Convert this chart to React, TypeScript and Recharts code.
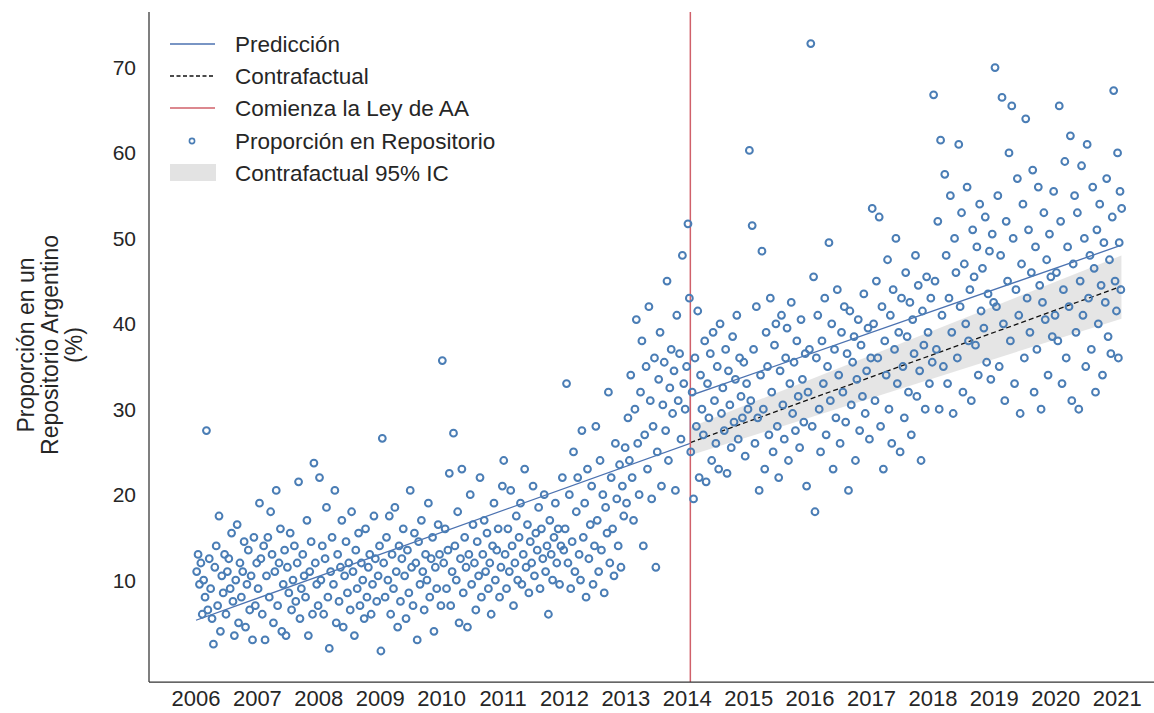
import React from 'react';
import {
  ComposedChart,
  Scatter,
  Line,
  Area,
  XAxis,
  YAxis,
  ReferenceLine,
} from 'recharts';

const YEARS = [2006, 2007, 2008, 2009, 2010, 2011, 2012, 2013, 2014, 2015, 2016, 2017, 2018, 2019, 2020, 2021];
const Y_TICKS = [10, 20, 30, 40, 50, 60, 70];

// weekly share per year (left to right inside each year)
const Y2006 = [11, 13, 9.5, 12, 6, 10, 8, 27.5, 6.5, 12.5, 9, 5.5, 2.5, 11.5, 14, 7, 17.5, 4, 10.5, 8.5, 13, 6, 11, 12.5, 9, 15.5, 7.5, 3.5, 10, 16.5, 5, 12, 8, 11, 14.5, 4.5, 9.5, 13.5, 6.5, 10.5, 3, 15, 7, 12];
const Y2007 = [9, 19, 12.5, 6, 14, 3, 10.5, 15, 8, 18, 13, 5, 11, 20.5, 7, 12, 16, 4, 9.5, 13.5, 3.5, 11.5, 8.5, 15.5, 6.5, 10, 14, 7.5, 12, 21.5, 5.5, 9, 13, 10.5, 8, 17, 3.5, 11, 14.5, 6, 23.7, 12, 9.5, 7];
const Y2008 = [22, 10, 14, 6, 12.5, 18.5, 8, 2, 11, 15, 9.5, 20.5, 5, 13, 7.5, 11.5, 17, 4.5, 10.5, 14.5, 8.5, 12, 6.5, 18, 11, 3.5, 13.5, 9, 15.5, 7, 12, 10, 5.5, 16, 8, 11.5, 13, 6, 9.5, 17.5, 12.5, 7.5, 10.5, 14];
const Y2009 = [1.7, 26.6, 12, 8, 15, 10, 17.5, 6, 13, 9, 18.5, 11, 4.5, 14, 7.5, 12.5, 16, 10.5, 5.5, 13.5, 8.5, 20.5, 11.5, 7, 15.5, 12, 3, 14.5, 9.5, 17, 11, 6.5, 13, 10, 19, 8, 12.5, 15, 4, 11.5, 9, 16.5, 13, 7];
const Y2010 = [35.7, 12, 16, 9, 13.5, 22.5, 7, 11, 27.2, 14, 10, 18, 5, 12.5, 23, 8.5, 15, 11.5, 4.5, 13, 20, 9.5, 16.5, 12, 6.5, 14.5, 10.5, 22, 8, 13, 17, 11, 15.5, 9, 12, 6, 14, 19, 10, 13.5, 16, 8, 11.5, 21];
const Y2011 = [24, 13, 9, 16, 11, 20.5, 14, 7, 12, 17.5, 10, 15, 19, 9.5, 13, 23, 11.5, 16.5, 8.5, 14.5, 12, 21, 10.5, 15.5, 13.5, 18.5, 9, 16, 12.5, 20, 11, 14, 6, 17, 13, 10, 15, 19, 12, 16, 9.5, 14, 22, 13.5];
const Y2012 = [16, 33, 12, 20, 9, 14.5, 25, 11, 18, 22, 13, 10, 27.5, 15, 19, 8, 23, 12.5, 16.5, 21, 9.5, 14, 28, 17, 11, 24, 13.5, 20, 8.5, 18.5, 15.5, 32, 12, 22, 16, 10.5, 26, 19.5, 14, 23.5, 11.5, 21, 17.5, 25.5];
const Y2013 = [19, 29, 24, 34, 22, 17, 30, 40.5, 26, 20, 32, 38, 14, 27, 35, 23, 42, 31, 19.5, 28, 36, 11.5, 25, 33.5, 39, 21, 30.5, 35.5, 27.5, 45, 24, 32.5, 37, 29.5, 34.5, 20.5, 41, 31, 36.5, 26.5, 48, 33, 30, 35];
const Y2014 = [51.7, 43, 25, 32, 19.5, 36, 28, 41.5, 22, 34, 30, 27, 38, 21.5, 33, 29, 36.5, 24, 39, 31, 26, 35, 23, 40, 29.5, 32.5, 27.5, 37, 22.5, 34.5, 30.5, 25.5, 38.5, 28.5, 33.5, 41, 26.5, 36, 31.5, 29, 35.5, 24.5, 33, 30];
const Y2015 = [60.3, 31, 51.5, 37, 26, 42, 29, 20.5, 34, 48.5, 30, 23, 39, 35, 27, 43, 32, 25, 37.5, 40, 28, 22, 34.5, 41, 30.5, 26.5, 36, 39.5, 24, 33, 42.5, 29.5, 35.5, 27.5, 38, 31.5, 25.5, 40.5, 33.5, 28.5, 36.5, 21, 32, 37];
const Y2016 = [72.8, 28, 45.5, 18, 36, 41, 30, 25, 38, 33, 43, 27, 35, 49.5, 31, 40, 23, 37, 29, 44, 34, 26, 39, 32, 42, 28.5, 36.5, 20.5, 41.5, 30.5, 35.5, 38.5, 24, 33.5, 40.5, 27.5, 37.5, 31.5, 43.5, 29.5, 34.5, 39.5, 26.5, 36];
const Y2017 = [53.5, 40, 31, 45, 36, 52.5, 28, 42, 23, 38, 34, 47.5, 30, 41, 26, 44, 37, 50, 33, 39, 25, 43, 35, 29, 46, 38.5, 32, 42.5, 27, 40.5, 36.5, 48, 31.5, 44.5, 34.5, 24, 41.5, 37.5, 30, 45.5, 39, 33, 43, 35.5];
const Y2018 = [66.8, 45, 37, 52, 30, 61.5, 41, 35, 57.5, 48, 33, 43, 55, 39, 29.5, 50, 46, 36, 61, 42, 53, 32, 47, 40, 56, 38, 44, 31, 51, 45.5, 37.5, 49, 34, 54, 41.5, 46.5, 39.5, 52.5, 35.5, 43.5, 48.5, 33.5, 50.5, 42.5];
const Y2019 = [70, 42, 55, 35, 48, 66.5, 40, 31, 52, 45, 60, 38, 65.5, 50, 33, 44, 57, 41, 29.5, 47, 54, 36, 64, 43, 51, 39, 46, 58, 32, 49, 37, 56, 44.5, 30, 42.5, 53, 40.5, 47.5, 34, 50.5, 45.5, 38.5, 55.5, 41];
const Y2020 = [46, 38, 65.5, 52, 33, 44, 59, 36, 49, 42, 62, 31, 47, 55, 39, 53, 30, 45, 58.5, 41, 50, 35, 61, 43, 48, 37, 56, 46.5, 32, 51, 40, 54, 44.5, 34, 49.5, 42.5, 57, 38.5, 47.5, 36.5, 52.5, 67.3, 45, 41.5];
const Y2021 = [60, 36, 49.5, 55.5, 44, 53.5];

const PER_YEAR = [Y2006, Y2007, Y2008, Y2009, Y2010, Y2011, Y2012, Y2013, Y2014, Y2015, Y2016, Y2017, Y2018, Y2019, Y2020, Y2021];

// model lines
const PREDICCION = [
  { x: 2006.0, y: 5.3 },
  { x: 2014.05, y: 26.0 },
  { x: 2014.05, y: 31.6 },
  { x: 2021.07, y: 49.2 },
];
const CONTRAFACTUAL = [
  { x: 2014.05, y: 26.1 },
  { x: 2021.07, y: 44.4 },
];
const IC_LOW = [24.6, 40.6];
const IC_HIGH = [27.9, 48.0];
const IC_X = [2014.05, 2021.07];
const LEY_AA = 2014.05;

const points = PER_YEAR.flatMap((vals, k) => {
  const year = YEARS[k];
  const span = year === 2021 ? 0.08 : 1;
  return vals.map((v, i) => ({ x: year + ((i + 0.5) / vals.length) * span, y: v }));
});
const icData = IC_X.map((x, i) => ({ x, ci: [IC_LOW[i], IC_HIGH[i]] }));

const FONT = '"Liberation Sans", Arial, sans-serif';
const TEXT = '#262626';
const BLUE = '#4a7db5';
const LINE_BLUE = '#4c72b0';
const RED = '#d0606a';

const Dot = (props: any) => (
  <circle cx={props.cx} cy={props.cy} r={3.4} fill="none" stroke={BLUE} strokeWidth={2} />
);

export default function App() {
  return (
    <div style={{ position: 'fixed', left: 0, top: 0, width: 1154, height: 713, background: '#fff' }}>
      <ComposedChart width={1154} height={713} margin={{ top: 12, right: 0, bottom: 0, left: 0 }}>
        <XAxis
          type="number"
          dataKey="x"
          domain={[2005.235, 2021.6]}
          ticks={YEARS}
          allowDataOverflow
          tickLine={false}
          height={31}
          axisLine={{ stroke: '#333', strokeWidth: 1.25 }}
          tick={{ fill: TEXT, fontSize: 22, fontFamily: FONT }}
        />
        <YAxis
          type="number"
          dataKey="y"
          domain={[-1.93, 76.5]}
          ticks={Y_TICKS}
          allowDataOverflow
          width={149}
          tickLine={false}
          tickMargin={7}
          axisLine={{ stroke: '#333', strokeWidth: 1.25 }}
          tick={{ fill: TEXT, fontSize: 21, fontFamily: FONT }}
        />
        <Area
          data={icData}
          dataKey="ci"
          type="linear"
          stroke="none"
          fill="#d4d4d4"
          fillOpacity={0.6}
          isAnimationActive={false}
        />
        <Scatter data={points} dataKey="y" shape={Dot} isAnimationActive={false} />
        <Line
          data={PREDICCION}
          dataKey="y"
          type="linear"
          stroke={LINE_BLUE}
          strokeWidth={1.3}
          dot={false}
          isAnimationActive={false}
        />
        <Line
          data={CONTRAFACTUAL}
          dataKey="y"
          type="linear"
          stroke="#111"
          strokeWidth={1.3}
          strokeDasharray="5 3"
          dot={false}
          isAnimationActive={false}
        />
        <ReferenceLine x={LEY_AA} stroke={RED} strokeWidth={1.5} />
      </ComposedChart>
      <svg
        width={1154}
        height={713}
        style={{ position: 'absolute', left: 0, top: 0, pointerEvents: 'none' }}
        fontFamily={FONT}
        fill={TEXT}
      >
        <g transform="translate(50, 345) rotate(-90)" fontSize={23} textAnchor="middle">
          <text x={0} y={-16}>Proporción en un</text>
          <text x={0} y={8}>Repositorio Argentino</text>
          <text x={0} y={32}>(%)</text>
        </g>
        <g fontSize={22.5}>
          <line x1={170} x2={215} y1={44} y2={44} stroke={LINE_BLUE} strokeWidth={1.3} />
          <text x={235} y={52}>Predicción</text>
          <line x1={170} x2={215} y1={76} y2={76} stroke="#111" strokeWidth={1.3} strokeDasharray="4 2.5" />
          <text x={235} y={84}>Contrafactual</text>
          <line x1={170} x2={215} y1={108} y2={108} stroke={RED} strokeWidth={1.5} />
          <text x={235} y={116}>Comienza la Ley de AA</text>
          <circle cx={192} cy={141} r={2.6} fill="none" stroke={BLUE} strokeWidth={1.6} />
          <text x={235} y={149}>Proporción en Repositorio</text>
          <rect x={170} y={164} width={46} height={17} fill="#e3e3e3" />
          <text x={235} y={181}>Contrafactual 95% IC</text>
        </g>
      </svg>
    </div>
  );
}
